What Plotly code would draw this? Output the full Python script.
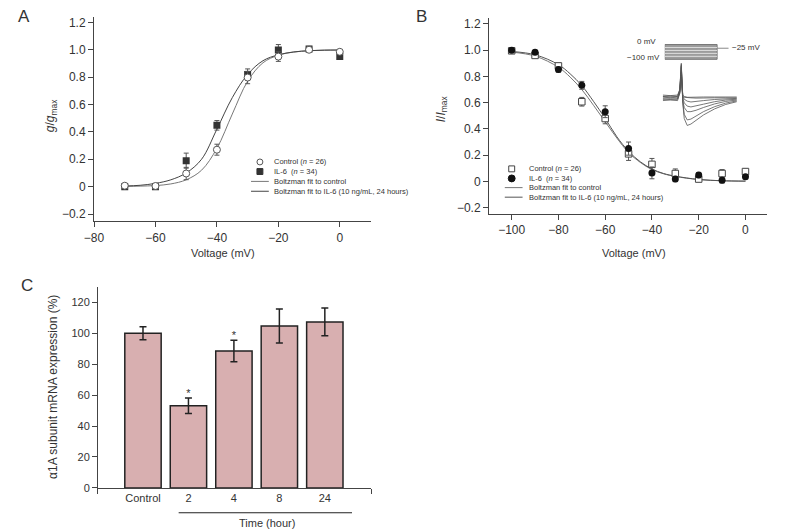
import plotly.graph_objects as go

W, H = 794, 530
def px(x): return x / W
def py(y): return 1 - y / H

FONT = "Liberation Sans, Arial, sans-serif"
TXT = "#333333"
AX = "#444444"

# ---------------- Panel A data ----------------
voltA = [-70, -60, -50, -40, -30, -20, -10, 0]
ctrlA = [0.007, 0.005, 0.096, 0.27, 0.797, 0.95, 1.0, 0.985]
ctrlA_err = [0.012, 0.012, 0.045, 0.04, 0.045, 0.035, 0.02, 0.01]
il6A = [0.0, 0.0, 0.19, 0.448, 0.82, 0.998, 1.005, 0.95]
il6A_err = [0.012, 0.012, 0.055, 0.035, 0.04, 0.04, 0.02, 0.012]
fitA_v = [-70, -65, -60, -55, -50, -45, -40, -35, -30, -25, -20, -15, -10, -5, 0]
fitA_ctrl = [0.002, 0.004, 0.008, 0.02, 0.05, 0.12, 0.28, 0.53, 0.77, 0.905, 0.96, 0.983, 0.993, 0.997, 0.998]
fitA_il6 = [0.005, 0.01, 0.024, 0.05, 0.10, 0.2, 0.42, 0.65, 0.82, 0.92, 0.963, 0.984, 0.993, 0.997, 0.998]
xticksA = [-80, -60, -40, -20, 0]
xlabelsA = ["−80", "−60", "−40", "−20", "0"]
yticks = [-0.2, 0, 0.2, 0.4, 0.6, 0.8, 1.0, 1.2]
ylabels = ["−0.2", "0", "0.2", "0.4", "0.6", "0.8", "1.0", "1.2"]

# ---------------- Panel B data ----------------
voltB = [-100, -90, -80, -70, -60, -50, -40, -30, -20, -10, 0]
ctrlB = [0.995, 0.96, 0.88, 0.607, 0.479, 0.21, 0.13, 0.06, 0.018, 0.06, 0.075]
ctrlB_err = [0.01, 0.015, 0.02, 0.033, 0.04, 0.05, 0.045, 0.035, 0.02, 0.03, 0.02]
il6B = [1.0, 0.985, 0.852, 0.732, 0.531, 0.25, 0.065, 0.018, 0.048, 0.008, 0.035]
il6B_err = [0.01, 0.015, 0.02, 0.03, 0.045, 0.05, 0.045, 0.02, 0.02, 0.02, 0.015]
fitB_v = [-100, -90, -80, -75, -70, -65, -60, -55, -50, -45, -40, -35, -30, -20, -10, 0]
fitB_il6 = [0.99, 0.965, 0.89, 0.82, 0.73, 0.61, 0.48, 0.34, 0.23, 0.15, 0.095, 0.06, 0.04, 0.015, 0.005, 0.002]
fitB_ctrl = [0.985, 0.955, 0.87, 0.795, 0.70, 0.58, 0.455, 0.33, 0.22, 0.145, 0.09, 0.058, 0.038, 0.014, 0.005, 0.002]
xticksB = [-100, -80, -60, -40, -20, 0]
xlabelsB = ["−100", "−80", "−60", "−40", "−20", "0"]

# inset: example current traces (arbitrary units) and voltage protocol
inset_t = [0, 10, 20, 23, 25, 27, 29, 33, 38, 45, 55, 70, 85, 100]
inset_traces = [
    [0.05, 0.03, 0.05, 0.3, 1.25, -0.2, -0.75, -1.0, -0.95, -0.82, -0.62, -0.4, -0.24, -0.14],
    [-0.05, -0.03, -0.05, 0.25, 1.2, -0.15, -0.6, -0.8, -0.77, -0.66, -0.5, -0.32, -0.19, -0.11],
    [0.1, 0.08, 0.1, 0.3, 1.15, -0.1, -0.35, -0.5, -0.5, -0.45, -0.35, -0.22, -0.13, -0.08],
    [-0.1, -0.08, -0.1, 0.2, 1.1, 0.0, -0.18, -0.3, -0.33, -0.3, -0.23, -0.14, -0.08, -0.05],
    [0.0, 0.02, 0.0, 0.25, 1.0, 0.05, -0.05, -0.12, -0.15, -0.14, -0.1, -0.06, -0.03, -0.02],
    [0.05, 0.07, 0.05, 0.2, 0.9, 0.1, 0.05, 0.02, 0.02, 0.03, 0.03, 0.03, 0.03, 0.03],
    [-0.04, -0.06, -0.04, 0.15, 0.8, 0.05, 0.02, 0.0, 0.0, -0.01, 0.0, 0.0, 0.0, 0.0],
]
prot_box_t = [0, 73, 73, 0, 0]
prot_box_v = [0, 0, -100, -100, 0]
prot_levels = [-20, -40, -60, -80]
prot_step_t = [0, 73]
prot_test_t = [73, 89]
prot_test_v = -25

# ---------------- Panel C data ----------------
catsC = ["Control", "2", "4", "8", "24"]
exprC = [100, 53.2, 88.6, 104.7, 107.4]
exprC_err = [4.2, 5.0, 7.0, 11.0, 9.0]
sigC = [False, True, True, False, False]
yticksC = [0, 20, 40, 60, 80, 100, 120]

fig = go.Figure()

# ---- A ----
fig.add_trace(go.Scatter(x=fitA_v, y=fitA_ctrl, mode="lines", line=dict(color="#777", width=1, shape="spline"),
                         xaxis="x", yaxis="y", showlegend=False))
fig.add_trace(go.Scatter(x=fitA_v, y=fitA_il6, mode="lines", line=dict(color="#444", width=1, shape="spline"),
                         xaxis="x", yaxis="y", showlegend=False))
fig.add_trace(go.Scatter(x=voltA, y=il6A, mode="markers",
                         error_y=dict(type="data", array=il6A_err, color="#555", thickness=1, width=2.5),
                         marker=dict(symbol="square", size=7, color="#333"),
                         xaxis="x", yaxis="y", showlegend=False))
fig.add_trace(go.Scatter(x=voltA, y=ctrlA, mode="markers",
                         error_y=dict(type="data", array=ctrlA_err, color="#555", thickness=1, width=2.5),
                         marker=dict(symbol="circle", size=7, color="white", line=dict(color="#555", width=1)),
                         xaxis="x", yaxis="y", showlegend=False))

# ---- B ----
fig.add_trace(go.Scatter(x=fitB_v, y=fitB_ctrl, mode="lines", line=dict(color="#777", width=1, shape="spline"),
                         xaxis="x2", yaxis="y2", showlegend=False))
fig.add_trace(go.Scatter(x=fitB_v, y=fitB_il6, mode="lines", line=dict(color="#555", width=1, shape="spline"),
                         xaxis="x2", yaxis="y2", showlegend=False))
fig.add_trace(go.Scatter(x=voltB, y=ctrlB, mode="markers",
                         error_y=dict(type="data", array=ctrlB_err, color="#555", thickness=1, width=2.5),
                         marker=dict(symbol="square", size=6.5, color="white", line=dict(color="#444", width=1)),
                         xaxis="x2", yaxis="y2", showlegend=False))
fig.add_trace(go.Scatter(x=voltB, y=il6B, mode="markers",
                         error_y=dict(type="data", array=il6B_err, color="#555", thickness=1, width=2.5),
                         marker=dict(symbol="circle", size=7, color="#111"),
                         xaxis="x2", yaxis="y2", showlegend=False))

# inset currents
for tr in inset_traces:
    fig.add_trace(go.Scatter(x=inset_t, y=tr, mode="lines", line=dict(color="#555", width=0.8),
                             xaxis="x4", yaxis="y4", showlegend=False, hoverinfo="skip"))
# inset protocol
fig.add_trace(go.Scatter(x=prot_box_t, y=prot_box_v, mode="lines", fill="toself", fillcolor="#9c9c9c",
                         line=dict(color="#777", width=1), xaxis="x5", yaxis="y5", showlegend=False, hoverinfo="skip"))
for lv in prot_levels:
    fig.add_trace(go.Scatter(x=prot_step_t, y=[lv, lv], mode="lines", line=dict(color="#dddddd", width=1),
                             xaxis="x5", yaxis="y5", showlegend=False, hoverinfo="skip"))
fig.add_trace(go.Scatter(x=prot_test_t, y=[prot_test_v, prot_test_v], mode="lines", line=dict(color="#888", width=1),
                         xaxis="x5", yaxis="y5", showlegend=False, hoverinfo="skip"))

# ---- C ----
xposC = list(range(len(catsC)))
fig.add_trace(go.Bar(x=xposC, y=exprC, width=0.8, marker=dict(color="#d8afb0", line=dict(color="#222", width=1.5)),
                     error_y=dict(type="data", array=exprC_err, color="#222", thickness=1.5, width=3.5),
                     xaxis="x3", yaxis="y3", showlegend=False))
star_x = [x for x, s in zip(xposC, sigC) if s]
star_y = [v + e + 2.5 for v, e, s in zip(exprC, exprC_err, sigC) if s]
fig.add_trace(go.Scatter(x=star_x, y=star_y, mode="text", text=["*"] * len(star_x),
                         textfont=dict(size=11, color="#333", family=FONT),
                         xaxis="x3", yaxis="y3", showlegend=False))

axis_common = dict(showline=True, linecolor=AX, linewidth=1, ticks="outside", ticklen=5, tickcolor=AX,
                   showgrid=False, zeroline=False, tickfont=dict(size=12, color=TXT, family=FONT))

fig.update_layout(
    width=W, height=H, margin=dict(l=0, r=0, t=0, b=0),
    paper_bgcolor="white", plot_bgcolor="white", showlegend=False,
    font=dict(family=FONT, color=TXT),
    xaxis=dict(domain=[px(77), px(357)], range=[-80, 10], anchor="y",
               tickvals=xticksA, ticktext=xlabelsA, **axis_common),
    yaxis=dict(domain=[py(215), py(8)], range=[-0.252, 1.24], anchor="x",
               tickvals=yticks, ticktext=ylabels, **axis_common),
    xaxis2=dict(domain=[px(477), px(759)], range=[-109.7, 9.4], anchor="y2",
                tickvals=xticksB, ticktext=xlabelsB, **axis_common),
    yaxis2=dict(domain=[py(207.7), py(9)], range=[-0.248, 1.246], anchor="x2",
                tickvals=yticks, ticktext=ylabels, **axis_common),
    xaxis3=dict(domain=[px(81), px(357.7)], range=[-0.99, 5.02], anchor="y3",
                showline=True, linecolor=AX, linewidth=1, ticks="", showgrid=False, zeroline=False,
                tickvals=xposC, ticktext=catsC, tickfont=dict(size=11, color=TXT, family=FONT),
                minor=dict(tickvals=[-0.99, 5.02], ticks="outside", ticklen=5, tickcolor=AX)),
    yaxis3=dict(domain=[py(485.3), py(281.7)], range=[0, 130], anchor="x3",
                showline=True, linecolor=AX, linewidth=1, ticks="outside", ticklen=5, tickcolor=AX,
                showgrid=False, zeroline=False, tickvals=yticksC,
                tickfont=dict(size=11, color=TXT, family=FONT)),
    xaxis4=dict(domain=[px(653), px(728)], range=[0, 100], anchor="y4", visible=False),
    yaxis4=dict(domain=[py(125), py(50)], range=[-1.25, 1.43], anchor="x4", visible=False),
    xaxis5=dict(domain=[px(655), px(720)], range=[0, 89.5], anchor="y5", visible=False),
    yaxis5=dict(domain=[py(54), py(33)], range=[-120, 20], anchor="x5", visible=False),
)

ann = []
def A(x, y, text, size=11, xanchor="center", angle=0, color=TXT):
    ann.append(dict(x=px(x), y=py(y), xref="paper", yref="paper", text=text, showarrow=False,
                    xanchor=xanchor, yanchor="middle", textangle=angle,
                    font=dict(size=size, color=color, family=FONT)))

# panel letters
A(6, 8, "A", size=17)
A(409, 8, "B", size=17)
A(9, 280, "C", size=17)
# axis titles
A(208, 247, "Voltage (mV)")
A(624, 247, "Voltage (mV)")
A(33, 108, "<i>g</i>/<i>g</i><sub>max</sub>", size=12, angle=-90)
A(429, 101, "<i>I</i>/<i>I</i><sub>max</sub>", size=12, angle=-90)
A(36, 383.5, "α1A subunit mRNA expression (%)", size=12, angle=-90)
A(251.7, 520.5, "Time (hour)")
# legend A
legA_rows = [155, 164.7, 174.7, 184.7]
legB_rows = [162, 171.7, 181, 190.7]
leg_texts = ["Control (<i>n</i> = 26)", "IL-6  (<i>n</i> = 34)", "Boltzman fit to control",
             "Boltzman fit to IL-6 (10 ng/mL, 24 hours)"]
for yy, t in zip(legA_rows, leg_texts):
    A(257, yy, t, size=7.5, xanchor="left")
for yy, t in zip(legB_rows, leg_texts):
    A(515, yy, t, size=7.5, xanchor="left")
# inset labels
A(648, 33, "0 mV", size=8, xanchor="right")
A(652, 49, "−100 mV", size=8, xanchor="right")
A(721, 39, "−25 mV", size=8, xanchor="left")

shapes = []
def rect(cx, cy, r, fill, line):
    shapes.append(dict(type="rect", xref="paper", yref="paper", x0=px(cx - r), x1=px(cx + r),
                       y0=py(cy + r), y1=py(cy - r), fillcolor=fill, line=dict(color=line, width=1)))
def circ(cx, cy, r, fill, line):
    shapes.append(dict(type="circle", xref="paper", yref="paper", x0=px(cx - r), x1=px(cx + r),
                       y0=py(cy + r), y1=py(cy - r), fillcolor=fill, line=dict(color=line, width=1)))
def hline(x0, x1, y, color, width=1):
    shapes.append(dict(type="line", xref="paper", yref="paper", x0=px(x0), x1=px(x1), y0=py(y), y1=py(y),
                       line=dict(color=color, width=width)))

circ(245, legA_rows[0], 3, "white", "#555")
rect(245, legA_rows[1], 3, "#333", "#333")
hline(236, 254, legA_rows[2], "#777")
hline(236, 254, legA_rows[3], "#444")
rect(500, legB_rows[0], 3, "white", "#444")
circ(500, legB_rows[1], 3.5, "#111", "#111")
hline(493, 511, legB_rows[2], "#777")
hline(493, 511, legB_rows[3], "#555")
# Time bracket line
hline(162.7, 338.3, 510.5, "#222", 1.2)

fig.update_layout(annotations=ann, shapes=shapes)
fig.write_html("out.html")
